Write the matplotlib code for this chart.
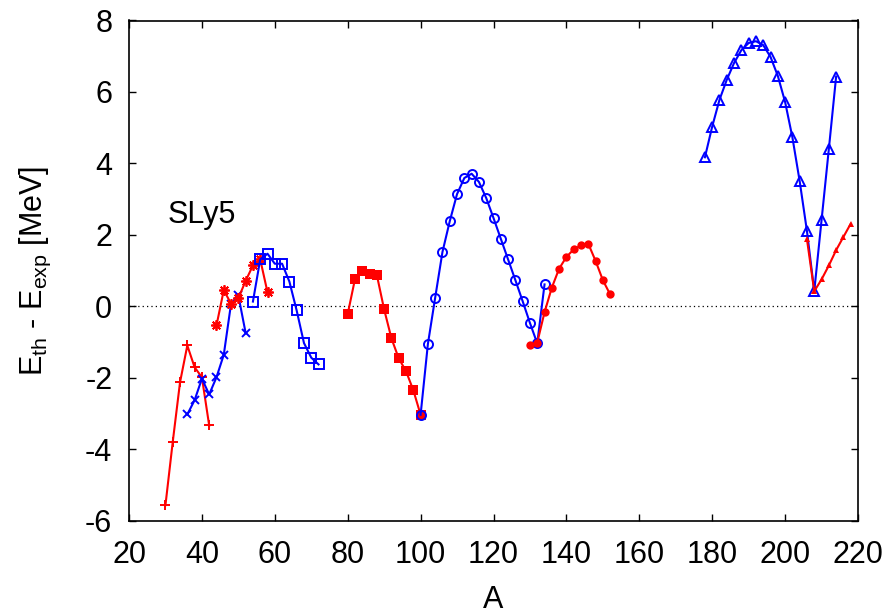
import numpy as np
import matplotlib
matplotlib.use("Agg")
import matplotlib.pyplot as plt

plt.rcParams['font.family'] = ['Liberation Sans', 'DejaVu Sans']
plt.rcParams['mathtext.fontset'] = 'custom'
plt.rcParams['mathtext.rm'] = 'Liberation Sans'
plt.rcParams['mathtext.it'] = 'Liberation Sans'
plt.rcParams['axes.unicode_minus'] = False

# Mass number A and E_th - E_exp (MeV) for each isotopic chain
A_plus = [30, 32, 34, 36, 38, 40, 42]
E_plus = [-5.57, -3.80, -2.13, -1.10, -1.71, -1.99, -3.34]

A_cross = [36, 38, 40, 42, 44, 46, 48, 50, 52]
E_cross = [-3.03, -2.63, -2.03, -2.47, -1.99, -1.36, 0.07, 0.30, -0.75]

A_star = [44, 46, 48, 50, 52, 54, 56, 58]
E_star = [-0.54, 0.45, 0.07, 0.22, 0.71, 1.14, 1.31, 0.39]

A_sq = [54, 56, 58, 60, 62, 64, 66, 68, 70, 72]
E_sq = [0.13, 1.31, 1.47, 1.19, 1.19, 0.69, -0.12, -1.03, -1.44, -1.63]

A_fsq = [80, 82, 84, 86, 88, 90, 92, 94, 96, 98, 100]
E_fsq = [-0.22, 0.76, 0.98, 0.90, 0.87, -0.09, -0.90, -1.46, -1.82, -2.35, -3.04]

A_circ = [100, 102, 104, 106, 108, 110, 112, 114, 116, 118, 120, 122, 124,
          126, 128, 130, 132, 134]
E_circ = [-3.04, -1.06, 0.24, 1.52, 2.38, 3.14, 3.59, 3.71, 3.48, 3.03, 2.47,
          1.89, 1.31, 0.73, 0.14, -0.47, -1.04, 0.61]

A_fcirc = [130, 132, 134, 136, 138, 140, 142, 144, 146, 148, 150, 152]
E_fcirc = [-1.10, -1.02, -0.17, 0.52, 1.05, 1.38, 1.59, 1.70, 1.75, 1.27,
           0.73, 0.33]

A_tri = [178, 180, 182, 184, 186, 188, 190, 192, 194, 196, 198, 200, 202,
         204, 206, 208, 210, 212, 214]
E_tri = [4.17, 5.03, 5.78, 6.34, 6.81, 7.17, 7.37, 7.42, 7.31, 6.98, 6.45,
         5.72, 4.73, 3.50, 2.10, 0.42, 2.41, 4.40, 6.43]

A_ftri = [206, 208, 210, 212, 214, 216, 218]
E_ftri = [1.87, 0.42, 0.75, 1.14, 1.57, 1.94, 2.31]

fig = plt.figure(figsize=(8.94, 6.16), dpi=100)
ax = fig.add_axes([129 / 894, 1 - 520.5 / 616, (858 - 129) / 894, 500 / 616])

red = '#ff0000'
blue = '#0000ff'
lw = 1.5

ax.axhline(0, color='black', lw=0.9, ls=(0, (1, 2.5)), zorder=1)

ax.plot(A_plus, E_plus, color=red, lw=lw, marker='+', ms=7.5, mew=1.4)
ax.plot(A_cross, E_cross, color=blue, lw=lw, marker='x', ms=6, mew=1.4)
ax.plot(A_star, E_star, color=red, lw=lw, marker=(8, 2, 0), ms=7.5, mew=1.3)
ax.plot(A_sq, E_sq, color=blue, lw=lw, marker='s', ms=6.5, mew=1.4, mfc='none')
ax.plot(A_fsq, E_fsq, color=red, lw=lw, marker='s', ms=6.5, mew=0)
ax.plot(A_circ, E_circ, color=blue, lw=lw, marker='o', ms=6.5, mew=1.4, mfc='none')
ax.plot(A_fcirc, E_fcirc, color=red, lw=lw, marker='o', ms=6, mew=0)
ax.plot(A_tri, E_tri, color=blue, lw=lw, marker='^', ms=7.5, mew=1.4, mfc='none')
ax.plot(A_ftri, E_ftri, color=red, lw=lw, marker='^', ms=5, mew=0)

ax.set_xlim(20, 220)
ax.set_ylim(-6, 8)
ax.set_xticks(np.arange(20, 221, 20))
ax.set_yticks(np.arange(-6, 9, 2))
ax.tick_params(direction='in', length=5, width=1, labelsize=22,
               top=True, right=True, pad=12)
ax.tick_params(axis='x', pad=14)
for s in ax.spines.values():
    s.set_linewidth(1.2)

ax.text(30.5, 2.55, 'SLy5', fontsize=22, ha='left', va='center')

fig.text(493.5 / 894, 1 - 600 / 616, 'A', fontsize=22, ha='center', va='center')
fig.text(35 / 894, 1 - 271 / 616, r'E$_{\rm th}$ - E$_{\rm exp}$ [MeV]',
         fontsize=22, rotation=90, ha='center', va='center')

fig.savefig('out.png', dpi=100)
